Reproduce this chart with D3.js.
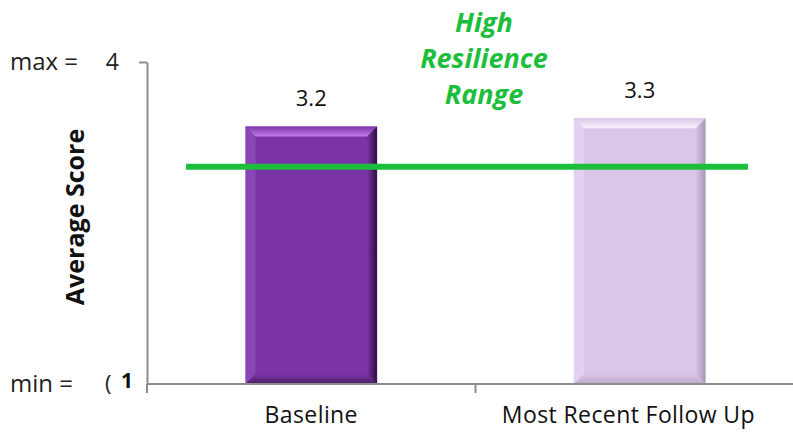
<!DOCTYPE html>
<html>
<head>
<meta charset="utf-8">
<script src="https://cdn.jsdelivr.net/npm/d3@7"></script>
<style>
  body { margin: 0; background: #fff; }
  svg { display: block; }
</style>
</head>
<body>
<svg id="chart"></svg>
<script>
// Chart data
const categories = ["Baseline", "Most Recent Follow Up"];
const scores = [3.2, 3.3];
const scoreLabels = ["3.2", "3.3"];
const highResilience = 2.7;
const yDomain = [0, 4];
const yTicks = [4];
const annotationLines = ["High", "Resilience", "Range"];

// Size of the picture
const width = 793;
const height = 436;

const svg = d3.select("#chart")
  .attr("width", width)
  .attr("height", height);

// Scales
const x = d3.scaleBand()
  .domain(categories)
  .range([147, 804])
  .paddingInner(0.6)
  .paddingOuter(0.3);

const y = d3.scaleLinear()
  .domain(yDomain)
  .range([384, 62]);

const font = "'Open Sans', sans-serif";
const axisGrey = "#8c8c8c";
const green = "#1dbe3c";

// Gradients for the bevelled bars
const defs = svg.append("defs");
const barStyles = [
  { main: "#7b34a8", light: "#c07ce8", dark: "#2a0f3c", side: "#8a45b6" },
  { main: "#d9c6e8", light: "#fbf1fd", dark: "#a898b4", side: "#e2d2ef" }
];

barStyles.forEach((s, i) => {
  const top = defs.append("linearGradient")
    .attr("id", "top" + i).attr("x1", 0).attr("y1", 0).attr("x2", 0).attr("y2", 1);
  top.append("stop").attr("offset", "0%").attr("stop-color", s.main);
  top.append("stop").attr("offset", "100%").attr("stop-color", s.light);

  const right = defs.append("linearGradient")
    .attr("id", "right" + i).attr("x1", 0).attr("y1", 0).attr("x2", 1).attr("y2", 0);
  right.append("stop").attr("offset", "0%").attr("stop-color", s.main);
  right.append("stop").attr("offset", "100%").attr("stop-color", s.dark);

  const bottom = defs.append("linearGradient")
    .attr("id", "bottom" + i).attr("x1", 0).attr("y1", 0).attr("x2", 0).attr("y2", 1);
  bottom.append("stop").attr("offset", "0%").attr("stop-color", s.main);
  bottom.append("stop").attr("offset", "100%").attr("stop-color", d3.interpolateRgb(s.main, s.dark)(0.6));
});

// Bars with bevel edges
const bevel = 10;
const bars = svg.selectAll(".bar")
  .data(categories)
  .enter()
  .append("g")
  .attr("class", "bar");

bars.each(function (c, i) {
  const g = d3.select(this);
  const x0 = x(c);
  const x1 = x0 + x.bandwidth();
  const y0 = y(scores[i]);
  const y1 = y(0);
  const b = bevel;
  const s = barStyles[i];

  g.append("rect")
    .attr("x", x0).attr("y", y0)
    .attr("width", x1 - x0).attr("height", y1 - y0)
    .attr("fill", s.main)
    .attr("stroke", i === 0 ? "#cbb3d6" : "#e6e0ea")
    .attr("stroke-width", 1);

  const poly = (pts, fill) => g.append("polygon")
    .attr("points", pts.map(p => p.join(",")).join(" "))
    .attr("fill", fill);

  poly([[x0, y0], [x0 + b, y0 + b], [x0 + b, y1 - b], [x0, y1]], s.side);
  poly([[x1, y0], [x1 - b, y0 + b], [x1 - b, y1 - b], [x1, y1]], `url(#right${i})`);
  poly([[x0, y1], [x0 + b, y1 - b], [x1 - b, y1 - b], [x1, y1]], `url(#bottom${i})`);
  poly([[x0, y0], [x1, y0], [x1 - b, y0 + b], [x0 + b, y0 + b]], `url(#top${i})`);
});

// Value labels above the bars
svg.selectAll(".value")
  .data(categories)
  .enter()
  .append("text")
  .attr("class", "value")
  .attr("x", d => x(d) + x.bandwidth() / 2)
  .attr("y", (d, i) => y(scores[i]) - 20)
  .attr("text-anchor", "middle")
  .style("font-family", font)
  .style("font-size", "22px")
  .style("fill", "#111")
  .text((d, i) => scoreLabels[i]);

// Axes
const yAxis = svg.append("g")
  .attr("transform", `translate(${x.range()[0]},0)`)
  .call(d3.axisLeft(y).tickValues(yTicks).tickSize(8).tickSizeOuter(0).tickFormat(d3.format("d")));

yAxis.select(".domain").attr("stroke", axisGrey).attr("stroke-width", 2);
yAxis.selectAll(".tick line").attr("stroke", axisGrey).attr("stroke-width", 2);
yAxis.selectAll(".tick text")
  .attr("x", -28)
  .style("font-family", font)
  .style("font-size", "23px")
  .style("fill", "#222");

// Category axis: line plus ticks at band boundaries
const xAxis = svg.append("g");
xAxis.append("line")
  .attr("x1", x.range()[0]).attr("x2", width)
  .attr("y1", y(0)).attr("y2", y(0))
  .attr("stroke", axisGrey).attr("stroke-width", 2);

const boundaries = categories.map(c => x(c) - x.step() * x.paddingInner() / 2);
boundaries[0] = x.range()[0];
xAxis.selectAll(".xtick")
  .data(boundaries)
  .enter()
  .append("line")
  .attr("x1", d => d).attr("x2", d => d)
  .attr("y1", y(0)).attr("y2", y(0) + 9)
  .attr("stroke", axisGrey).attr("stroke-width", 2);

xAxis.selectAll(".cat")
  .data(categories)
  .enter()
  .append("text")
  .attr("class", "cat")
  .attr("x", d => x(d) + x.bandwidth() / 2)
  .attr("y", y(0) + 39)
  .attr("text-anchor", "middle")
  .style("font-family", font)
  .style("font-size", "23px")
  .style("letter-spacing", "0.4px")
  .style("fill", "#111")
  .text(d => d)
  .each(function () {
    // keep the label inside the picture, like the source does
    const box = this.getBBox();
    const right = 755;
    if (box.x + box.width > right) {
      d3.select(this).attr("x", right - box.width / 2);
    }
  });

// Axis title
svg.append("text")
  .attr("transform", `translate(84,217) rotate(-90)`)
  .attr("text-anchor", "middle")
  .style("font-family", font)
  .style("font-size", "25px")
  .style("font-weight", "bold")
  .style("fill", "#111")
  .text("Average Score");

// max / min captions
svg.append("text")
  .attr("x", 10).attr("y", 70)
  .style("font-family", font).style("font-size", "24px").style("fill", "#222")
  .text("max =");

svg.append("text")
  .attr("x", 10).attr("y", 392)
  .style("font-family", font).style("font-size", "24px").style("fill", "#222")
  .text("min =");

svg.append("text")
  .attr("x", 105).attr("y", 391)
  .style("font-family", font).style("font-size", "22px").style("fill", "#222")
  .text("(");

svg.append("text")
  .attr("x", 121).attr("y", 388)
  .style("font-family", font).style("font-size", "21px").style("font-weight", "bold").style("fill", "#111")
  .text(yDomain[0] + 1);

// High resilience line and label
svg.append("line")
  .attr("x1", 186).attr("x2", 748)
  .attr("y1", y(highResilience)).attr("y2", y(highResilience))
  .attr("stroke", green)
  .attr("stroke-width", 6);

svg.selectAll(".note")
  .data(annotationLines)
  .enter()
  .append("text")
  .attr("class", "note")
  .attr("x", 484)
  .attr("y", (d, i) => 32 + i * 36)
  .attr("text-anchor", "middle")
  .style("font-family", font)
  .style("font-size", "27px")
  .style("font-weight", "bold")
  .style("font-style", "italic")
  .style("fill", green)
  .text(d => d);
</script>
</body>
</html>
